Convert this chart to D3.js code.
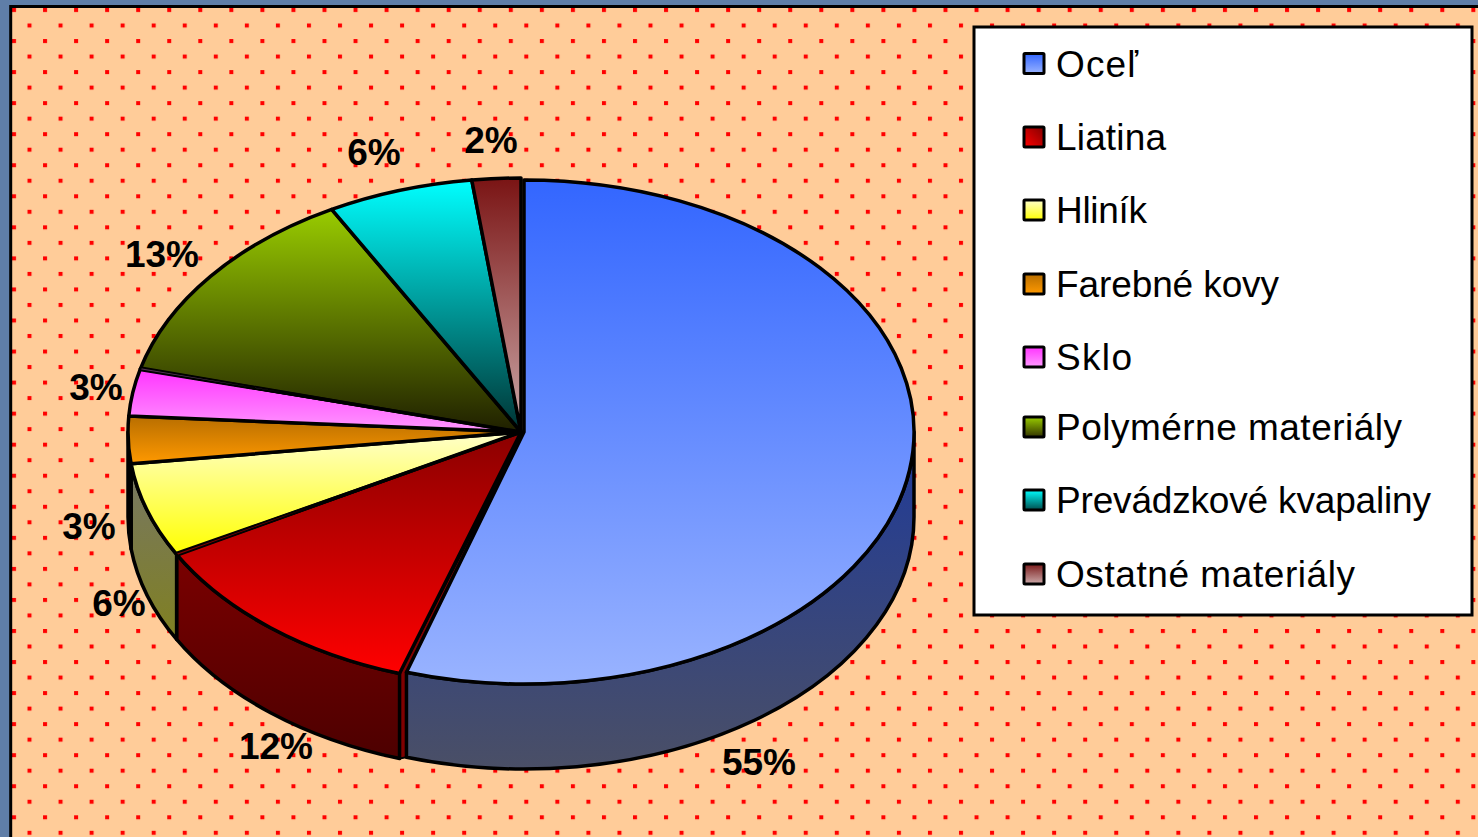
<!DOCTYPE html>
<html>
<head>
<meta charset="utf-8">
<script src="https://cdn.jsdelivr.net/npm/d3@7"></script>
<style>
  html, body { margin: 0; padding: 0; background: #5f7ea8; overflow: hidden; }
  text { font-family: "Liberation Sans", Arial, sans-serif; fill: #000; }
</style>
</head>
<body>
<script>
// data
const materials = ['Oceľ', 'Liatina', 'Hliník', 'Farebné kovy', 'Sklo', 'Polymérne materiály', 'Prevádzkové kvapaliny', 'Ostatné materiály'];
const shares = [55, 12, 6, 3, 3, 13, 6, 2];

// top face gradients [top, bottom], side face gradients [top, bottom]
const topColors = [['#3366ff', '#99b3ff'], ['#8b0000', '#ff0000'], ['#ffffcc', '#ffff00'], ['#b86e00', '#ff9900'],
  ['#ff33ff', '#ff99ff'], ['#99cc00', '#1f1f00'], ['#00ffff', '#003333'], ['#7a1414', '#ccaaaa']];
const sideColors = [['#1f3a99', '#4a4f66'], ['#7a0000', '#4d0000'], ['#777766', '#808020'], ['#6e4200', '#6e4200'],
  ['#803080', '#803080'], ['#333300', '#333300'], ['#004d4d', '#004d4d'], ['#4d1010', '#4d1010']];
const swatchColors = [['#3366ff', '#99b3ff'], ['#800000', '#ff0000'], ['#ffffcc', '#ffff00'], ['#b86e00', '#ff9900'],
  ['#ff33ff', '#ff99ff'], ['#99cc00', '#333300'], ['#00ffff', '#004d4d'], ['#7a1a1a', '#ccaaaa']];

// label placement (moved by hand in the original)
const labelX = [759, 276, 119, 89, 96, 162, 374, 491];
const labelY = [762, 746, 603, 526, 387, 254, 152, 140];

// legend rows are not quite even in the original
const legendRowY = [63.5, 137, 210, 284, 357, 427, 500, 574];
const legendTextWidth = [82, 110, 91, 223, 76, 346, 375, 299];

const width = 1478;
const height = 837;
const cx = 524, cy = 432, depth = 85;
const strokeW = 3.5;

const svg = d3.select('body').append('svg')
  .attr('width', width)
  .attr('height', height)
  .style('display', 'block');

const defs = svg.append('defs');

function addGradient(id, colors) {
  const g = defs.append('linearGradient').attr('id', id)
    .attr('x1', 0).attr('y1', 0).attr('x2', 0).attr('y2', 1);
  g.append('stop').attr('offset', '0%').attr('stop-color', colors[0]);
  g.append('stop').attr('offset', '100%').attr('stop-color', colors[1]);
  return g;
}
topColors.forEach((c, i) => addGradient('top' + i, c));
sideColors.forEach((c, i) => addGradient('side' + i, c));
swatchColors.forEach((c, i) => addGradient('sw' + i, c));
// the Liatina swatch runs across the corner
d3.select('#sw1').attr('x1', 1).attr('y1', 0).attr('x2', 0).attr('y2', 1);

// dotted plot background
const dots = defs.append('pattern').attr('id', 'dots')
  .attr('patternUnits', 'userSpaceOnUse')
  .attr('x', 12).attr('y', 8)
  .attr('width', 31.05).attr('height', 31.05);
dots.append('rect').attr('width', 31.05).attr('height', 31.05).attr('fill', '#ffcc99');
dots.append('rect').attr('x', 0).attr('y', 0).attr('width', 4).attr('height', 4).attr('fill', '#ff0000');
dots.append('rect').attr('x', 15.5).attr('y', 15.5).attr('width', 4).attr('height', 4).attr('fill', '#ff0000');

svg.append('rect').attr('x', 10.7).attr('y', 6.5).attr('width', width).attr('height', height)
  .attr('fill', 'url(#dots)').attr('stroke', '#000').attr('stroke-width', 3);

// pie angles, 0 = top, clockwise
const arcs = d3.pie().sort(null).value(d => d)(shares);

const chart = svg.append('g').attr('transform', `translate(${cx},${cy})`);

// the big slice is pulled out a little from the rest
const steelGeom = { dx: 0, rx: 390, ry: 252 };
const restGeom = { dx: -3, rx: 393, ry: 254 };
const steelTrim = 0.008;
const geomOf = i => (i === 0 ? steelGeom : restGeom);
const endOf = (d, i) => (i === 0 ? d.endAngle - steelTrim : d.endAngle);
const px = (g, a) => g.dx + g.rx * Math.sin(a);
const py = (g, a) => -g.ry * Math.cos(a);

function topPath(g, a0, a1) {
  const large = a1 - a0 > Math.PI ? 1 : 0;
  return `M${g.dx},0L${px(g, a0)},${py(g, a0)}A${g.rx},${g.ry} 0 ${large} 1 ${px(g, a1)},${py(g, a1)}Z`;
}

function sidePath(g, a0, a1) {
  // only the front half of the rim is visible
  const s = Math.max(a0, Math.PI / 2);
  const e = Math.min(a1, 3 * Math.PI / 2);
  if (e <= s) return null;
  const large = e - s > Math.PI ? 1 : 0;
  return `M${px(g, s)},${py(g, s)}A${g.rx},${g.ry} 0 ${large} 1 ${px(g, e)},${py(g, e)}` +
    `L${px(g, e)},${py(g, e) + depth}A${g.rx},${g.ry} 0 ${large} 0 ${px(g, s)},${py(g, s) + depth}Z`;
}

// cut face showing in the gap between steel and cast iron
const gapRest = arcs[0].endAngle;
const gapSteel = gapRest - steelTrim;
chart.append('path')
  .attr('d', `M${steelGeom.dx},0L${px(restGeom, gapRest)},${py(restGeom, gapRest)}` +
    `L${px(restGeom, gapRest)},${py(restGeom, gapRest) + depth}` +
    `L${px(steelGeom, gapSteel)},${py(steelGeom, gapSteel) + depth}` +
    `L${px(steelGeom, gapSteel)},${py(steelGeom, gapSteel)}Z`)
  .attr('fill', '#800000')
  .attr('stroke', '#000')
  .attr('stroke-width', 2);

// side walls first
chart.selectAll('path.side')
  .data(arcs)
  .enter().append('path')
  .attr('class', 'side')
  .attr('d', (d, i) => sidePath(geomOf(i), d.startAngle, endOf(d, i)))
  .attr('fill', (d, i) => `url(#side${i})`)
  .attr('stroke', '#000')
  .attr('stroke-width', strokeW)
  .attr('stroke-linejoin', 'round');

chart.selectAll('path.top')
  .data(arcs)
  .enter().append('path')
  .attr('class', 'top')
  .attr('d', (d, i) => topPath(geomOf(i), d.startAngle, endOf(d, i)))
  .attr('fill', (d, i) => `url(#top${i})`)
  .attr('stroke', '#000')
  .attr('stroke-width', strokeW)
  .attr('stroke-linejoin', 'round');

// thin slivers on two of the inner boundaries
const slivers = [
  { angle: arcs[2].startAngle, color: '#800000' },
  { angle: arcs[5].startAngle, color: '#553355' }
];
const sliverWidth = 0.012;
chart.selectAll('path.sliver')
  .data(slivers)
  .enter().append('path')
  .attr('class', 'sliver')
  .attr('d', d => topPath(restGeom, d.angle - sliverWidth / 2, d.angle + sliverWidth / 2))
  .attr('fill', d => d.color)
  .attr('stroke', '#000')
  .attr('stroke-width', 2);

// percent labels
svg.selectAll('text.pct')
  .data(shares)
  .enter().append('text')
  .attr('class', 'pct')
  .attr('x', (d, i) => labelX[i])
  .attr('y', (d, i) => labelY[i])
  .attr('text-anchor', 'middle')
  .attr('dominant-baseline', 'central')
  .attr('font-size', 37)
  .attr('font-weight', 'bold')
  .text(d => d + '%');

// legend
svg.append('rect')
  .attr('x', 974).attr('y', 27).attr('width', 498).attr('height', 588)
  .attr('fill', '#fff').attr('stroke', '#000').attr('stroke-width', 3);

const legend = svg.selectAll('g.legend')
  .data(materials)
  .enter().append('g')
  .attr('class', 'legend')
  .attr('transform', (d, i) => `translate(1024,${legendRowY[i]})`);

legend.append('rect')
  .attr('x', 0).attr('y', -10).attr('width', 20).attr('height', 20)
  .attr('fill', (d, i) => `url(#sw${i})`)
  .attr('stroke', '#000').attr('stroke-width', 3).attr('rx', 1);

legend.append('text')
  .attr('x', 32)
  .attr('y', 13)
  .attr('font-size', 37)
  .attr('textLength', (d, i) => legendTextWidth[i])
  .attr('lengthAdjust', 'spacing')
  .text(d => d);
</script>
</body>
</html>
